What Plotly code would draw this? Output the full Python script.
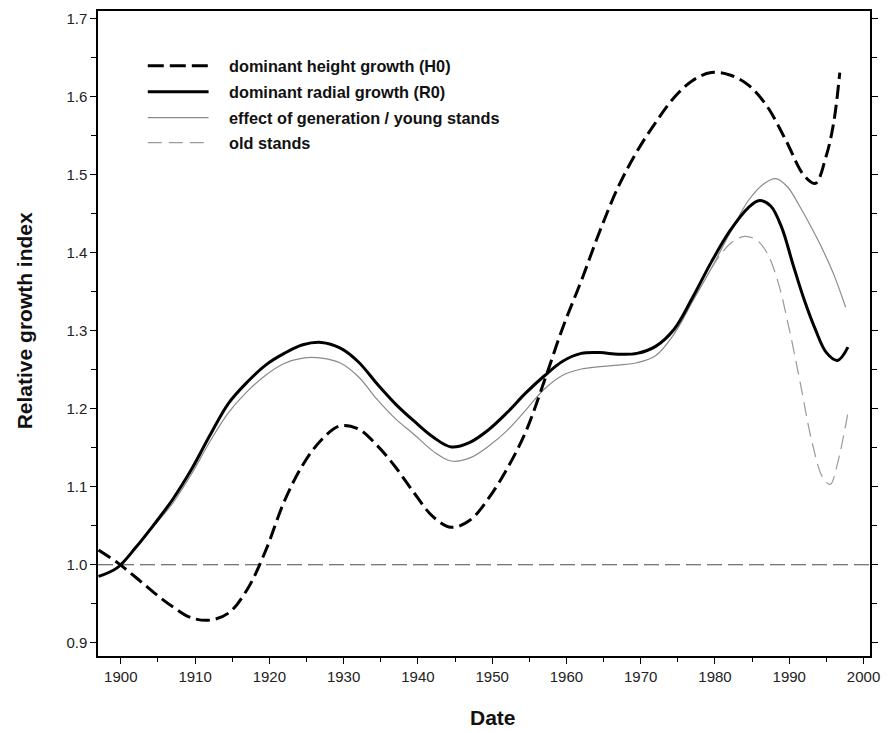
import plotly.graph_objects as go

# ---- data ----
h0_years = [1897, 1899.5, 1902, 1904.5, 1907, 1909.5, 1912, 1914.5, 1917, 1919.5, 1922, 1924.5,
            1927, 1929.5, 1932, 1934.5, 1937, 1939.5, 1942, 1944.5, 1947, 1949.5, 1952, 1954.5,
            1957, 1959.5, 1962, 1964.5, 1967, 1969.5, 1972, 1974.5, 1977, 1979.5, 1982,
            1984.5, 1987, 1989.5, 1992, 1993.5, 1995, 1996, 1996.8]
h0_values = [1.019, 1.003, 0.984, 0.964, 0.946, 0.932, 0.929, 0.938, 0.968, 1.018, 1.081, 1.128,
             1.160, 1.178, 1.174, 1.153, 1.125, 1.092, 1.062, 1.048, 1.057, 1.085, 1.123, 1.170,
             1.235, 1.304, 1.364, 1.428, 1.485, 1.530, 1.567, 1.599, 1.621, 1.631, 1.628,
             1.615, 1.588, 1.545, 1.499, 1.489, 1.525, 1.568, 1.631]

r0_years = [1897, 1899.5, 1902, 1904.5, 1907, 1909.5, 1912, 1914.5, 1917, 1919.5, 1922, 1924.5,
            1927, 1929.5, 1932, 1934.5, 1937, 1939.5, 1942, 1944.5, 1947, 1949.5, 1952, 1954.5,
            1957, 1959.5, 1962, 1964.5, 1967, 1969.5, 1972, 1974.5, 1977, 1979.5, 1982,
            1984.5, 1986, 1987.5, 1989, 1990.5, 1992, 1993.5, 1995, 1996.5, 1997.9]
r0_values = [0.985, 0.996, 1.022, 1.052, 1.084, 1.122, 1.166, 1.207, 1.234, 1.256, 1.271, 1.282,
             1.285, 1.278, 1.260, 1.232, 1.206, 1.184, 1.164, 1.151, 1.157, 1.173, 1.195, 1.220,
             1.242, 1.261, 1.271, 1.272, 1.270, 1.271, 1.280, 1.302, 1.343, 1.388, 1.428,
             1.458, 1.467, 1.460, 1.432, 1.385, 1.340, 1.302, 1.272, 1.262, 1.279]

young_years = [1897, 1899.5, 1902, 1904.5, 1907, 1909.5, 1912, 1914.5, 1917, 1919.5, 1922, 1924.5,
               1927, 1929.5, 1932, 1934.5, 1937, 1939.5, 1942, 1944.5, 1947, 1949.5, 1952, 1954.5,
               1957, 1959.5, 1962, 1964.5, 1967, 1969.5, 1972, 1974.5, 1977, 1979.5, 1982,
               1984.5, 1986.5, 1988.2, 1989.8, 1991.5, 1993, 1994.5, 1996, 1997.6]
young_values = [0.985, 0.996, 1.021, 1.050, 1.079, 1.116, 1.158, 1.195, 1.222, 1.243, 1.258, 1.265,
                1.265, 1.259, 1.241, 1.212, 1.187, 1.167, 1.146, 1.133, 1.137, 1.152, 1.172, 1.198,
                1.225, 1.243, 1.251, 1.254, 1.256, 1.259, 1.268, 1.296, 1.338, 1.380, 1.425,
                1.467, 1.488, 1.495, 1.484, 1.458, 1.432, 1.404, 1.372, 1.330]

old_years = [1979.5, 1981, 1982.5, 1984, 1985.5, 1987, 1988.5, 1990, 1991.5, 1993, 1994.5,
             1995.5, 1996.5, 1997.9]
old_values = [1.380, 1.401, 1.415, 1.421, 1.417, 1.400, 1.362, 1.302, 1.232, 1.160, 1.112,
              1.103, 1.130, 1.195]

reference_level = 1.0
x_range = [1896.93, 2000.87]
y_range = [0.883, 1.710]

legend_labels = ["dominant height growth (H0)", "dominant radial growth (R0)",
                 "effect of generation / young stands", "old stands"]

# ---- layout geometry ----
W, H = 889, 733
ML, MR, MT, MB = 98, 16, 9, 77
PW, PH = W - ML - MR, H - MT - MB


def px_x(p):
    return (p - ML) / PW


def px_y(p):
    return (H - MB - p) / PH


styles = [
    dict(color="black", width=3, dash="14px,6px"),
    dict(color="black", width=3, dash="solid"),
    dict(color="#8a8a8a", width=1.2, dash="solid"),
    dict(color="#9a9a9a", width=1.2, dash="14px,7px"),
]
legend_dash = ["16px,6px", "solid", "solid", "14px,7px"]

fig = go.Figure()

series = [(young_years, young_values, styles[2], legend_labels[2]),
          (old_years, old_values, styles[3], legend_labels[3]),
          (h0_years, h0_values, styles[0], legend_labels[0]),
          (r0_years, r0_values, styles[1], legend_labels[1])]
for xs, ys, st, nm in series:
    fig.add_trace(go.Scatter(x=xs, y=ys, mode="lines", name=nm,
                             line=dict(shape="spline", smoothing=1.0, **st),
                             showlegend=False))

shapes = [dict(type="line", xref="paper", yref="y", x0=0, x1=1,
               y0=reference_level, y1=reference_level, layer="below",
               line=dict(color="#4a4a4a", width=1.2, dash="15px,6px"))]
annotations = []
rows_y = [64, 90, 116, 141]
for lab, st, ld, ry in zip(legend_labels, styles, legend_dash, rows_y):
    shapes.append(dict(type="line", xref="paper", yref="paper",
                       x0=px_x(148), x1=px_x(209), y0=px_y(ry), y1=px_y(ry),
                       line=dict(color=st["color"], width=st["width"], dash=ld)))
    annotations.append(dict(xref="paper", yref="paper", x=px_x(228), y=px_y(ry),
                            xanchor="left", yanchor="middle", showarrow=False,
                            text="<b>" + lab + "</b>",
                            font=dict(family="Liberation Sans, Arial", size=16.3, color="#111")))

annotations.append(dict(xref="paper", yref="paper", x=px_x(24), y=px_y(320),
                        xanchor="center", yanchor="middle", showarrow=False, textangle=-90,
                        text="<b>Relative growth index</b>",
                        font=dict(family="Liberation Sans, Arial", size=21, color="#111")))
annotations.append(dict(xref="paper", yref="paper", x=px_x(495), y=px_y(718),
                        xanchor="center", yanchor="middle", showarrow=False,
                        text="<b>Date</b>",
                        font=dict(family="Liberation Sans, Arial", size=21, color="#111")))

fig.update_layout(
    width=W, height=H, autosize=False,
    margin=dict(l=ML, r=MR, t=MT, b=MB, pad=0),
    plot_bgcolor="white", paper_bgcolor="white",
    font=dict(family="Liberation Sans, Arial", size=15, color="#222"),
    shapes=shapes, annotations=annotations,
    showlegend=False,
)
fig.update_xaxes(range=x_range, showgrid=False, zeroline=False,
                 showline=True, linecolor="black", linewidth=1.5, mirror=True,
                 ticks="outside", ticklen=6, tickcolor="black", tickwidth=1,
                 tick0=1900, dtick=10,
                 minor=dict(ticks="outside", ticklen=4, tickcolor="black", dtick=5, tick0=1895,
                            showgrid=False),
                 tickfont=dict(size=15, color="#222"))
fig.update_yaxes(range=y_range, showgrid=False, zeroline=False,
                 showline=True, linecolor="black", linewidth=1.5, mirror="ticks",
                 ticks="outside", ticklen=6, tickcolor="black", tickwidth=1,
                 tick0=0.9, dtick=0.1, tickformat=".1f",
                 minor=dict(ticks="outside", ticklen=5, tickcolor="black", dtick=0.05, tick0=0.9,
                            showgrid=False),
                 tickfont=dict(size=15, color="#222"))

fig.write_html("out.html", config={"displayModeBar": False},
               post_script="document.body.style.margin='0';document.body.style.padding='0';")
